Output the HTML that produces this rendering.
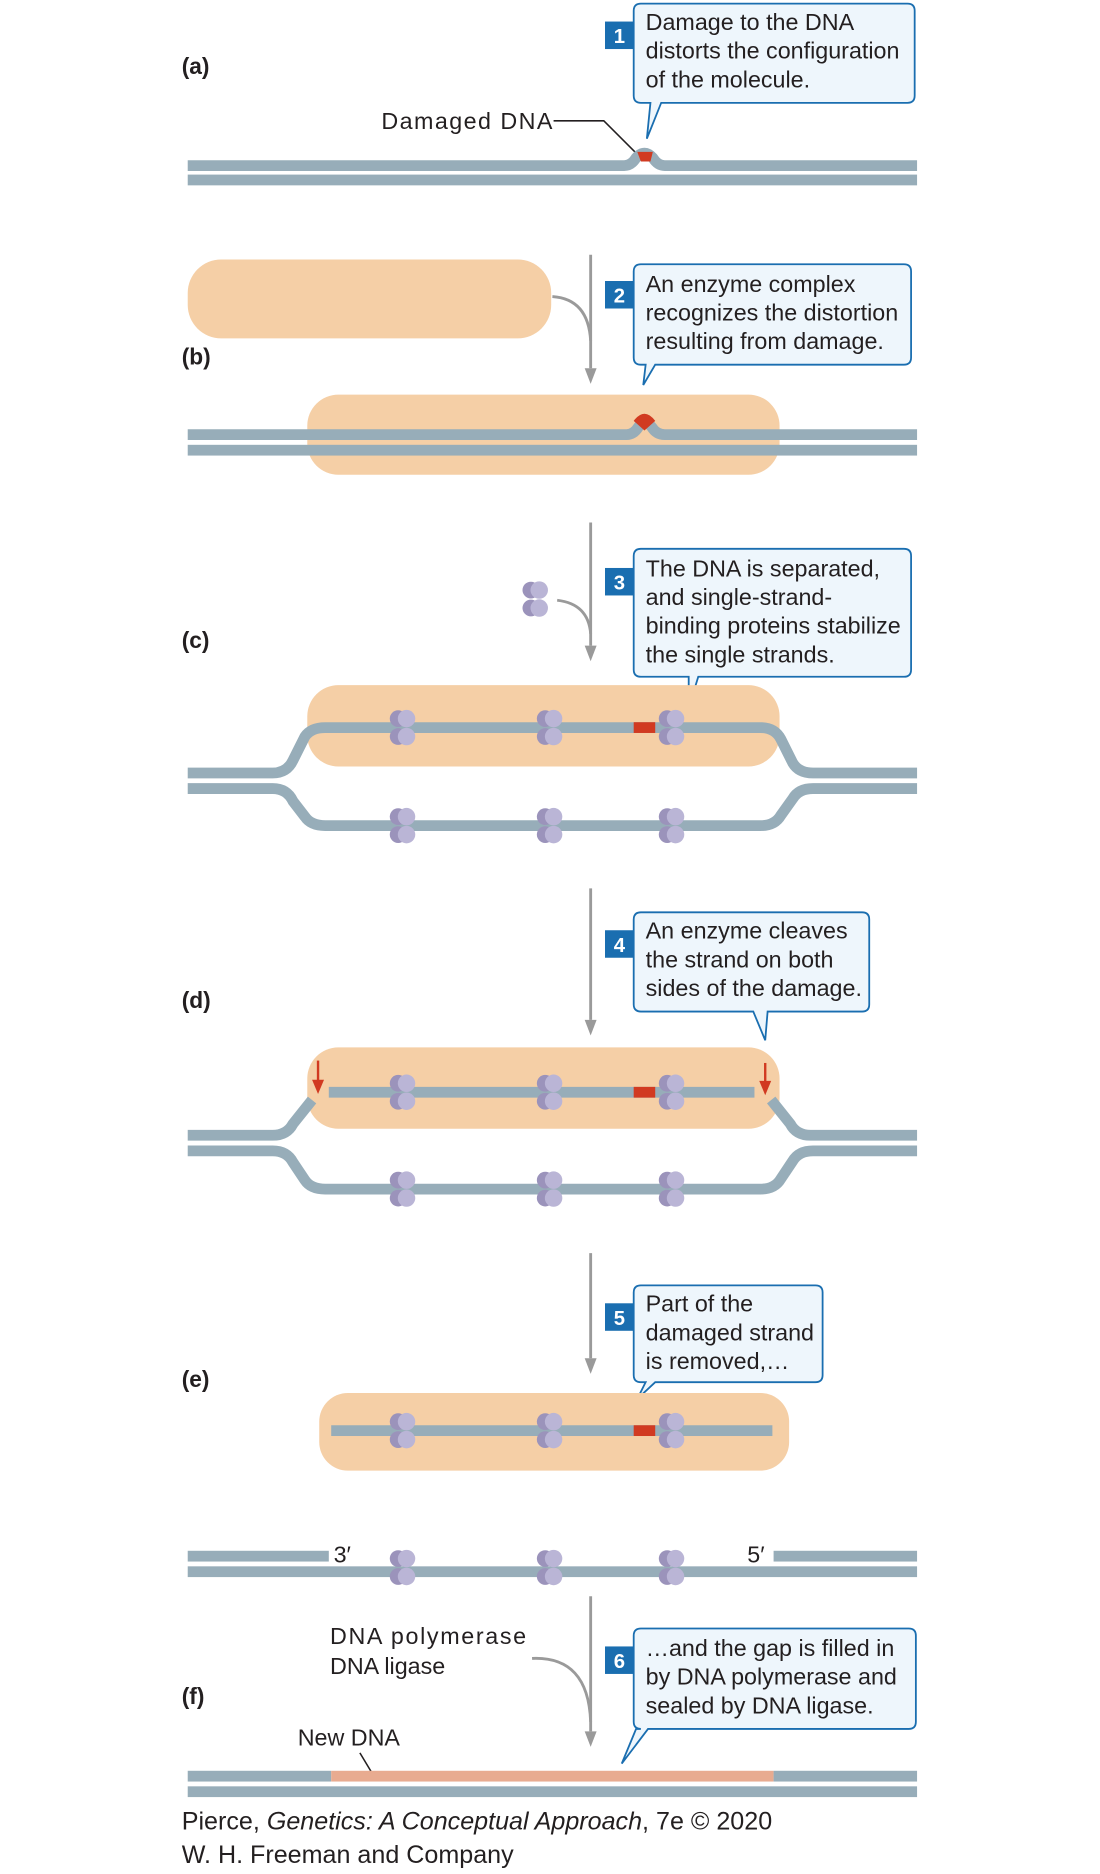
<!DOCTYPE html>
<html><head><meta charset="utf-8"><style>
html,body{margin:0;padding:0;background:#fff;}
svg{display:block;}
text{font-family:"Liberation Sans",sans-serif;}
.t{font-size:19.5px;fill:#231f20;}
.lab{font-size:19px;font-weight:bold;fill:#231f20;}
.num{font-size:17px;font-weight:bold;fill:#fff;}
.bub{fill:#eef6fc;stroke:#1a6eb0;stroke-width:1.5;}
.s{fill:none;stroke:#97adb9;stroke-width:9;}
.ar{fill:none;stroke:#9a9a9a;stroke-width:2.4;}
.enz{fill:#f5cfa6;}
</style></head><body>
<svg width="1100" height="1874" viewBox="0 0 920 1567.3" xmlns="http://www.w3.org/2000/svg">
<defs>
<g id="p">
<circle cx="-4" cy="-7.5" r="7" fill="#9b93bb"/><circle cx="-4" cy="7.5" r="7" fill="#9b93bb"/>
<circle cx="3" cy="-7.5" r="7.3" fill="#bab5d6"/><circle cx="3" cy="7.5" r="7.3" fill="#bab5d6"/>
</g>
<g id="head"><path d="M-5,-13 L5,-13 L0,0 Z" fill="#9a9a9a"/></g>
</defs>

<!-- (a) -->
<text class="lab" x="152" y="62">(a)</text>
<path class="bub" d="M536,3 H759 Q765,3 765,9 V80 Q765,86 759,86 H553 L541,116 L544,86 H536 Q530,86 530,80 V9 Q530,3 536,3 Z"/>
<rect x="506" y="18" width="24" height="23" fill="#1a6eb0"/><text class="num" x="518" y="36" text-anchor="middle">1</text>
<text class="t" x="540" y="25">Damage to the DNA</text>
<text class="t" x="540" y="49">distorts the configuration</text>
<text class="t" x="540" y="73">of the molecule.</text>
<text class="t" x="319" y="108" textLength="143">Damaged DNA</text>
<path d="M463,101 H505 L532,128" fill="none" stroke="#231f20" stroke-width="1.3"/>
<path class="s" d="M157,138.5 H522 Q528,138.5 532,132 Q539,124 546,132 Q550,138.5 556,138.5 H767"/>
<path d="M533,127 L546,127 L544,135 L536,135 Z" fill="#d13a21"/>
<rect x="157" y="146" width="610" height="9" fill="#97adb9"/>

<!-- (b) -->
<rect class="enz" x="157" y="217" width="304" height="66" rx="28"/>
<line class="ar" x1="494" y1="213" x2="494" y2="308"/><use href="#head" x="494" y="321"/>
<path class="ar" d="M462,248 Q492,250 494,285"/>
<text class="lab" x="152" y="305">(b)</text>
<path class="bub" d="M536,221 H756 Q762,221 762,227 V299 Q762,305 756,305 H548 L538,322 L540,305 H536 Q530,305 530,299 V227 Q530,221 536,221 Z"/>
<rect x="506" y="235" width="24" height="23" fill="#1a6eb0"/><text class="num" x="518" y="253" text-anchor="middle">2</text>
<text class="t" x="540" y="244">An enzyme complex</text>
<text class="t" x="540" y="268">recognizes the distortion</text>
<text class="t" x="540" y="292">resulting from damage.</text>
<rect class="enz" x="257" y="330" width="395" height="67" rx="26"/>
<path class="s" d="M157,363.5 H524 Q530,363.5 534,357 Q539,350 545,357 Q549,363.5 556,363.5 H767"/>
<path d="M530,352 Q539,340 548,352 L539,360 Z" fill="#d13a21"/>
<rect x="157" y="372" width="610" height="9" fill="#97adb9"/>

<!-- (c) -->
<line class="ar" x1="494" y1="437" x2="494" y2="540"/><use href="#head" x="494" y="553"/>
<g transform="translate(448,501)"><use href="#p"/></g>
<path class="ar" d="M466,502 Q492,505 494,530"/>
<text class="lab" x="152" y="542">(c)</text>
<path class="bub" d="M536,459 H756 Q762,459 762,465 V560 Q762,566 756,566 H584 L576,592 L576,566 H536 Q530,566 530,560 V465 Q530,459 536,459 Z"/>
<rect x="506" y="475" width="24" height="23" fill="#1a6eb0"/><text class="num" x="518" y="493" text-anchor="middle">3</text>
<text class="t" x="540" y="482">The DNA is separated,</text>
<text class="t" x="540" y="506">and single-strand-</text>
<text class="t" x="540" y="530">binding proteins stabilize</text>
<text class="t" x="540" y="554">the single strands.</text>
<rect class="enz" x="257" y="573" width="395" height="68" rx="26"/>
<path class="s" d="M157,646.5 H228 Q240,646.5 245,636 L255,616 Q260,608.5 272,608.5 H636 Q648,608.5 653,618 L663,638 Q668,646.5 680,646.5 H767"/>
<path class="s" d="M157,659.5 H228 Q240,659.5 245,670 L255,683 Q260,690.5 272,690.5 H636 Q648,690.5 653,682 L663,668 Q668,659.5 680,659.5 H767"/>
<rect x="530" y="604" width="18" height="9" fill="#d13a21"/>
<use href="#p" x="337" y="608.5"/><use href="#p" x="460" y="608.5"/><use href="#p" x="562" y="608.5"/>
<use href="#p" x="337" y="690.5"/><use href="#p" x="460" y="690.5"/><use href="#p" x="562" y="690.5"/>

<!-- (d) -->
<line class="ar" x1="494" y1="743" x2="494" y2="853"/><use href="#head" x="494" y="866"/>
<text class="lab" x="152" y="843">(d)</text>
<path class="bub" d="M536,763 H721 Q727,763 727,769 V840 Q727,846 721,846 H642 L640,870 L630,846 H536 Q530,846 530,840 V769 Q530,763 536,763 Z"/>
<rect x="506" y="778" width="24" height="23" fill="#1a6eb0"/><text class="num" x="518" y="796" text-anchor="middle">4</text>
<text class="t" x="540" y="785">An enzyme cleaves</text>
<text class="t" x="540" y="809">the strand on both</text>
<text class="t" x="540" y="833">sides of the damage.</text>
<rect class="enz" x="257" y="876" width="395" height="68" rx="26"/>
<rect x="275" y="909" width="356" height="9" fill="#97adb9"/>
<rect x="530" y="909" width="18" height="9" fill="#d13a21"/>
<path class="s" d="M157,949.5 H228 Q240,949.5 245,940 L261,920"/>
<path class="s" d="M645,920 L661,940 Q666,949.5 678,949.5 H767"/>
<path class="s" d="M157,962.5 H228 Q240,962.5 245,972 L255,987 Q260,994.5 272,994.5 H636 Q648,994.5 653,986 L663,971 Q668,962.5 680,962.5 H767"/>
<path d="M266,887 V905" stroke="#d13a21" stroke-width="2"/><path d="M261,903 L271,903 L266,915 Z" fill="#d13a21"/>
<path d="M640,889 V906" stroke="#d13a21" stroke-width="2"/><path d="M635,904 L645,904 L640,916 Z" fill="#d13a21"/>
<use href="#p" x="337" y="913.5"/><use href="#p" x="460" y="913.5"/><use href="#p" x="562" y="913.5"/>
<use href="#p" x="337" y="994.5"/><use href="#p" x="460" y="994.5"/><use href="#p" x="562" y="994.5"/>

<!-- (e) -->
<line class="ar" x1="494" y1="1048" x2="494" y2="1136"/><use href="#head" x="494" y="1149"/>
<text class="lab" x="152" y="1160">(e)</text>
<path class="bub" d="M536,1075 H682 Q688,1075 688,1081 V1150 Q688,1156 682,1156 H548 L533,1170 L540,1156 H536 Q530,1156 530,1150 V1081 Q530,1075 536,1075 Z"/>
<rect x="506" y="1090" width="24" height="23" fill="#1a6eb0"/><text class="num" x="518" y="1108" text-anchor="middle">5</text>
<text class="t" x="540" y="1097">Part of the</text>
<text class="t" x="540" y="1121">damaged strand</text>
<text class="t" x="540" y="1145">is removed,…</text>
<rect class="enz" x="267" y="1165" width="393" height="65" rx="24"/>
<rect x="277" y="1192" width="369" height="9" fill="#97adb9"/>
<rect x="530" y="1192" width="18" height="9" fill="#d13a21"/>
<use href="#p" x="337" y="1196.5"/><use href="#p" x="460" y="1196.5"/><use href="#p" x="562" y="1196.5"/>
<rect x="157" y="1297" width="118" height="9" fill="#97adb9"/>
<rect x="647" y="1297" width="120" height="9" fill="#97adb9"/>
<rect x="157" y="1310" width="610" height="9" fill="#97adb9"/>
<text class="t" x="279" y="1307">3′</text>
<text class="t" x="625" y="1307">5′</text>
<use href="#p" x="337" y="1311"/><use href="#p" x="460" y="1311"/><use href="#p" x="562" y="1311"/>

<!-- (f) -->
<line class="ar" x1="494" y1="1335" x2="494" y2="1448"/><use href="#head" x="494" y="1461"/>
<path class="ar" d="M445,1387 Q492,1385 494,1440"/>
<text class="t" x="276" y="1375" textLength="164">DNA polymerase</text>
<text class="t" x="276" y="1400">DNA ligase</text>
<text class="lab" x="152" y="1425">(f)</text>
<path class="bub" d="M536,1362 H760 Q766,1362 766,1368 V1440 Q766,1446 760,1446 H542 L520,1475 L532,1446 H536 Q530,1446 530,1440 V1368 Q530,1362 536,1362 Z"/>
<rect x="506" y="1377" width="24" height="23" fill="#1a6eb0"/><text class="num" x="518" y="1395" text-anchor="middle">6</text>
<text class="t" x="540" y="1385">…and the gap is filled in</text>
<text class="t" x="540" y="1409">by DNA polymerase and</text>
<text class="t" x="540" y="1433">sealed by DNA ligase.</text>
<text class="t" x="249" y="1460">New DNA</text>
<line x1="301" y1="1466" x2="313" y2="1486" stroke="#231f20" stroke-width="1.3"/>
<rect x="157" y="1481" width="120" height="9" fill="#97adb9"/>
<rect x="277" y="1481" width="370" height="9" fill="#e8ab90"/>
<rect x="647" y="1481" width="120" height="9" fill="#97adb9"/>
<rect x="157" y="1494" width="610" height="9" fill="#97adb9"/>

<text x="152" y="1530" style="font-size:21px;fill:#231f20">Pierce, <tspan font-style="italic">Genetics: A Conceptual Approach</tspan>, 7e © 2020</text>
<text x="152" y="1558" style="font-size:21px;fill:#231f20">W. H. Freeman and Company</text>
</svg>
</body></html>
